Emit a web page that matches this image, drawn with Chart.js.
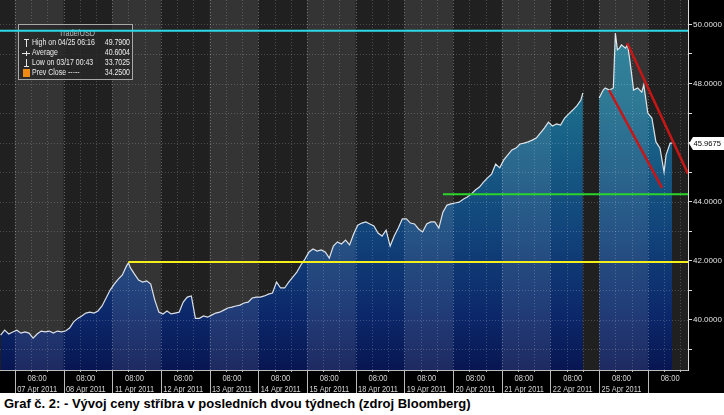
<!DOCTYPE html>
<html>
<head>
<meta charset="utf-8">
<script src="https://cdn.jsdelivr.net/npm/chart.js@4.4.1/dist/chart.umd.min.js"></script>
<style>
body { margin: 0; background: #fff; }
#obal { width: 724px; height: 393px; background: #000; }
#popis { font: bold 13px "Liberation Sans", Arial, sans-serif; color: #000; padding: 3px 0 0 4px; }
</style>
</head>
<body>
<div id="obal"><canvas id="graf" width="724" height="393"></canvas></div>
<div id="popis">Graf č. 2: - Vývoj ceny stříbra v posledních dvou týdnech (zdroj Bloomberg)</div>
<script>
// cas v hodinach od 07 Apr 00:00 (obchodni cas), cena stribra USD
let hodiny = [-10,-8,-6,-4,-2,0,2,4,6,8,10,12,14,16,18,20,22,24,26,28,30,32,34,36,38,40,42,44,46,48,50,52,53,54,56,58,60,62,64,66,68,70,72,74,76,78,80,82,84,86,88,90,92,94,96,98,100,102,104,106,108,110,112,114,116,118,120,122,124,126,128,130,132,134,136,138,140,142,144,146,148,150,152,154,156,158,160,162,164,166,168,170,172,174,176,178,180,182,184,186,188,190,192,194,196,198,200,202,204,206,208,210,212,214,216,218,220,222,224,226,228,230,232,234,236,238,240,242,244,246,248,250,252,254,256,258,260,262,264,266,268,270,272,274,276,277,281,285,287,288,290,292,293,294,295,296,298,299,300,302,304,306,307,309,311,313,315,317,318,320,321];
let ceny = [39.47,39.64,39.51,39.58,39.64,39.54,39.58,39.54,39.37,39.51,39.61,39.58,39.61,39.54,39.61,39.58,39.61,39.71,39.92,40.04,40.12,40.22,40.25,40.22,40.29,40.46,40.73,41.00,41.20,41.37,41.51,41.81,41.92,41.75,41.54,41.34,41.27,41.31,41.20,40.66,40.25,40.19,40.29,40.19,40.22,40.25,40.59,40.76,40.80,40.04,40.04,40.12,40.08,40.15,40.22,40.25,40.32,40.39,40.42,40.46,40.49,40.56,40.59,40.73,40.76,40.76,40.80,40.86,40.90,41.27,41.07,41.07,41.27,41.44,41.61,41.85,42.05,42.29,42.39,42.32,42.36,42.29,42.08,42.49,42.63,42.56,42.69,42.53,42.90,43.20,43.27,43.31,43.24,43.17,42.93,42.83,43.03,42.49,42.83,43.10,43.41,43.41,43.27,43.24,43.07,42.97,43.24,43.31,43.31,43.10,43.64,43.88,43.92,43.95,43.98,44.08,44.15,44.25,44.39,44.49,44.66,44.80,44.93,45.27,45.14,45.41,45.58,45.75,45.81,45.95,45.98,46.02,46.08,46.15,46.32,46.49,46.69,46.56,46.63,46.59,46.83,46.97,47.10,47.24,47.44,47.68,null,47.51,47.78,47.85,47.78,47.85,49.71,49.14,49.20,49.31,49.20,49.31,48.86,47.78,47.85,47.71,47.95,47.00,46.83,46.02,45.81,45.00,45.58,45.98,45.98];

let dny = ['07 Apr 2011','08 Apr 2011','11 Apr 2011','12 Apr 2011','13 Apr 2011','14 Apr 2011','15 Apr 2011','18 Apr 2011','19 Apr 2011','20 Apr 2011','21 Apr 2011','22 Apr 2011','25 Apr 2011',''];
let popiskyHodiny = [8,32,56,80,104,128,152,176,200,224,248,272,296,320];
let hraniceDnu = [-3,21,45,69,93,117,141,165,189,213,237,261,285,309];
let urovneOsy = [39,40,41,42,43,44,45,46,47,48,49,50];

// cary nakreslene v grafu
let maximum = 49.79;
let odpor = [[53, 41.95], [328.8, 41.95]];
let podpora = [[208, 44.25], [328.8, 44.25]];
let kanalHorni = [[298.8, 49.37], [328.8, 44.94]];
let kanalDolni = [[289.9, 47.78], [316.0, 44.46]];
let posledniCena = 45.9675;

let legendaRadky = [
  ['High on 04/25 06:16', '49.7900'],
  ['Average', '40.6004'],
  ['Low on 03/17 00:43', '33.7025'],
  ['Prev Close -----', '34.2500']
];

const xMin = -10.3, xMax = 328.8, yMin = 38.29, yMax = 50.83;
const pismo = '"Liberation Sans", Arial, sans-serif';

let cenaBody = hodiny.map((h, i) => ({ x: h, y: ceny[i] }));
let naBody = a => a.map(p => ({ x: p[0], y: p[1] }));

// uzky text (zuzeny vodorovne)
function uzkyText(ctx, t, x, y, zuzeni) {
  ctx.save();
  ctx.translate(x, y);
  ctx.scale(zuzeni, 1);
  ctx.fillText(t, 0, 0);
  ctx.restore();
}

function legenda(ctx) {
  ctx.save();
  ctx.fillStyle = 'rgba(40,40,40,0.82)';
  ctx.fillRect(18, 24, 115, 56);
  ctx.strokeStyle = '#a8a8a8';
  ctx.lineWidth = 1;
  ctx.strokeRect(18.5, 24.5, 114, 55);
  ctx.font = '8.5px ' + pismo;
  ctx.fillStyle = '#bdbdbd';
  ctx.textAlign = 'center';
  ctx.textBaseline = 'middle';
  uzkyText(ctx, 'Trade/USD', 77, 34, 0.85);
  ctx.fillStyle = '#ececec';
  legendaRadky.forEach((r, i) => {
    let yy = 43 + i * 10;
    ctx.textAlign = 'left';
    uzkyText(ctx, r[0], 32, yy, 0.82);
    ctx.textAlign = 'right';
    uzkyText(ctx, r[1], 130, yy, 0.82);
  });
  // ikonky
  ctx.strokeStyle = '#e6e6e6';
  ctx.beginPath();
  ctx.moveTo(24, 39.5); ctx.lineTo(29, 39.5);
  ctx.moveTo(26.5, 39.5); ctx.lineTo(26.5, 47);
  ctx.moveTo(22, 53.5); ctx.lineTo(30, 53.5);
  ctx.moveTo(26.5, 51); ctx.lineTo(26.5, 56);
  ctx.moveTo(26.5, 59); ctx.lineTo(26.5, 66.5);
  ctx.moveTo(24, 66.5); ctx.lineTo(29, 66.5);
  ctx.stroke();
  ctx.fillStyle = '#f08a12';
  ctx.fillRect(23, 69, 7, 8);
  ctx.restore();
}

const pozadi = {
  id: 'pozadi',
  beforeDatasetsDraw(ch) {
    const { ctx, chartArea: a } = ch;
    ctx.save();
    ctx.fillStyle = '#202020';
    ctx.fillRect(a.left, a.top, a.right - a.left, a.bottom - a.top);
    ctx.restore();
  },
  afterDatasetDraw(ch, args) {
    if (args.index !== 0) return;
    const { ctx, chartArea: a, scales: { x, y } } = ch;
    ctx.save();
    ctx.beginPath();
    ctx.rect(a.left, a.top, a.right - a.left, a.bottom - a.top);
    ctx.clip();
    // svetlejsi sloupce obchodnich dnu
    ctx.fillStyle = 'rgba(255,255,255,0.09)';
    hraniceDnu.forEach((h, i) => {
      if (i % 2) return;
      let x0 = x.getPixelForValue(h);
      let x1 = x.getPixelForValue(i + 1 < hraniceDnu.length ? hraniceDnu[i + 1] : xMax);
      ctx.fillRect(x0, a.top, x1 - x0, a.bottom - a.top);
    });
    // mrizka
    ctx.strokeStyle = 'rgba(255,255,255,0.2)';
    ctx.lineWidth = 1;
    ctx.setLineDash([1, 2]);
    urovneOsy.forEach(v => {
      let yy = Math.round(y.getPixelForValue(v)) + 0.5;
      ctx.beginPath(); ctx.moveTo(a.left, yy); ctx.lineTo(a.right, yy); ctx.stroke();
    });
    hraniceDnu.forEach(h => {
      [8, 16].forEach(d => {
        let xx = Math.round(x.getPixelForValue(h + d)) + 0.5;
        if (xx > a.right) return;
        ctx.beginPath(); ctx.moveTo(xx, a.top); ctx.lineTo(xx, a.bottom); ctx.stroke();
      });
    });
    ctx.strokeStyle = 'rgba(255,255,255,0.3)';
    hraniceDnu.forEach(h => {
      let xx = Math.round(x.getPixelForValue(h)) + 0.5;
      ctx.beginPath(); ctx.moveTo(xx, a.top); ctx.lineTo(xx, a.bottom); ctx.stroke();
    });
    ctx.restore();
    legenda(ctx);
  },
  afterDraw(ch) {
    const { ctx, chartArea: a, scales: { x, y } } = ch;
    ctx.save();
    // oddelovace dnu pod osou
    ctx.strokeStyle = '#bbbbbb';
    ctx.lineWidth = 1;
    hraniceDnu.forEach(h => {
      let xx = Math.round(x.getPixelForValue(h)) + 0.5;
      ctx.beginPath(); ctx.moveTo(xx, a.bottom); ctx.lineTo(xx, a.bottom + 23); ctx.stroke();
      [8, 16].forEach(d => {
        let xt = Math.round(x.getPixelForValue(h + d)) + 0.5;
        if (xt > a.right) return;
        ctx.beginPath(); ctx.moveTo(xt, a.bottom); ctx.lineTo(xt, a.bottom + 2); ctx.stroke();
      });
    });
    ctx.beginPath(); ctx.moveTo(a.left, a.bottom + 0.5); ctx.lineTo(a.right, a.bottom + 0.5); ctx.stroke();
    // popisky casove osy
    ctx.fillStyle = '#d6d6d6';
    ctx.font = '9.5px ' + pismo;
    ctx.textAlign = 'center';
    ctx.textBaseline = 'middle';
    popiskyHodiny.forEach((h, i) => {
      let xx = x.getPixelForValue(h);
      uzkyText(ctx, '08:00', xx, a.bottom + 8, 0.8);
      if (dny[i]) uzkyText(ctx, dny[i], xx, a.bottom + 19, 0.78);
    });
    // stitek posledni ceny
    let yy = y.getPixelForValue(posledniCena);
    ctx.fillStyle = '#ffffff';
    ctx.beginPath();
    ctx.moveTo(a.right + 1, yy);
    ctx.lineTo(a.right + 5, yy - 6.5);
    ctx.lineTo(724, yy - 6.5);
    ctx.lineTo(724, yy + 6.5);
    ctx.lineTo(a.right + 5, yy + 6.5);
    ctx.closePath();
    ctx.fill();
    ctx.fillStyle = '#000';
    ctx.font = '8px ' + pismo;
    ctx.textAlign = 'left';
    uzkyText(ctx, posledniCena.toFixed(4), a.right + 5.5, yy + 0.5, 0.95);
    ctx.restore();
  }
};

new Chart(document.getElementById('graf'), {
  type: 'line',
  data: {
    datasets: [
      {
        data: cenaBody,
        borderColor: 'rgba(240,244,248,0.9)',
        borderWidth: 1.2,
        pointRadius: 0,
        tension: 0,
        spanGaps: false,
        fill: 'start',
        order: 10,
        backgroundColor(c) {
          const a = c.chart.chartArea;
          if (!a) return '#1d6592';
          const g = c.chart.ctx.createLinearGradient(0, a.top, 0, a.bottom);
          g.addColorStop(0, '#207f94');
          g.addColorStop(0.3, '#1a6a8a');
          g.addColorStop(0.6, '#12477c');
          g.addColorStop(0.85, '#0c286a');
          g.addColorStop(1, '#081652');
          return g;
        }
      },
      { data: naBody([[xMin, maximum], [xMax, maximum]]), borderColor: '#2fd8e6', borderWidth: 2, pointRadius: 0, order: 1 },
      { data: naBody(odpor), borderColor: '#f2ef1c', borderWidth: 2, pointRadius: 0, order: 1 },
      { data: naBody(podpora), borderColor: '#2bd42b', borderWidth: 2, pointRadius: 0, order: 1 },
      { data: naBody(kanalHorni), borderColor: '#c81616', borderWidth: 2.5, pointRadius: 0, order: 1 },
      { data: naBody(kanalDolni), borderColor: '#c81616', borderWidth: 2.5, pointRadius: 0, order: 1 }
    ]
  },
  options: {
    responsive: false,
    animation: false,
    devicePixelRatio: 1,
    layout: { padding: 0 },
    plugins: { legend: { display: false }, tooltip: { enabled: false } },
    scales: {
      x: {
        type: 'linear',
        min: xMin,
        max: xMax,
        afterBuildTicks: s => { s.ticks = popiskyHodiny.map(v => ({ value: v })); },
        afterFit: s => { s.height = 23; s.paddingLeft = 0; s.paddingRight = 0; },
        grid: { display: false, drawTicks: false },
        border: { display: false },
        ticks: { display: false }
      },
      y: {
        position: 'right',
        min: yMin,
        max: yMax,
        afterBuildTicks: s => { s.ticks = urovneOsy.map(v => ({ value: v })); },
        afterFit: s => { s.width = 36; s.paddingTop = 0; s.paddingBottom = 0; },
        grid: { display: true, drawOnChartArea: false, drawTicks: true, tickLength: 4, color: '#dddddd' },
        border: { display: true, color: '#dddddd', width: 1 },
        ticks: {
          padding: 1,
          color: '#e2e2e2',
          font: { size: 8, family: pismo },
          callback: v => (v % 2 === 0 && v !== 46) ? v.toFixed(4) : ''
        }
      }
    }
  },
  plugins: [pozadi]
});
</script>
</body>
</html>
